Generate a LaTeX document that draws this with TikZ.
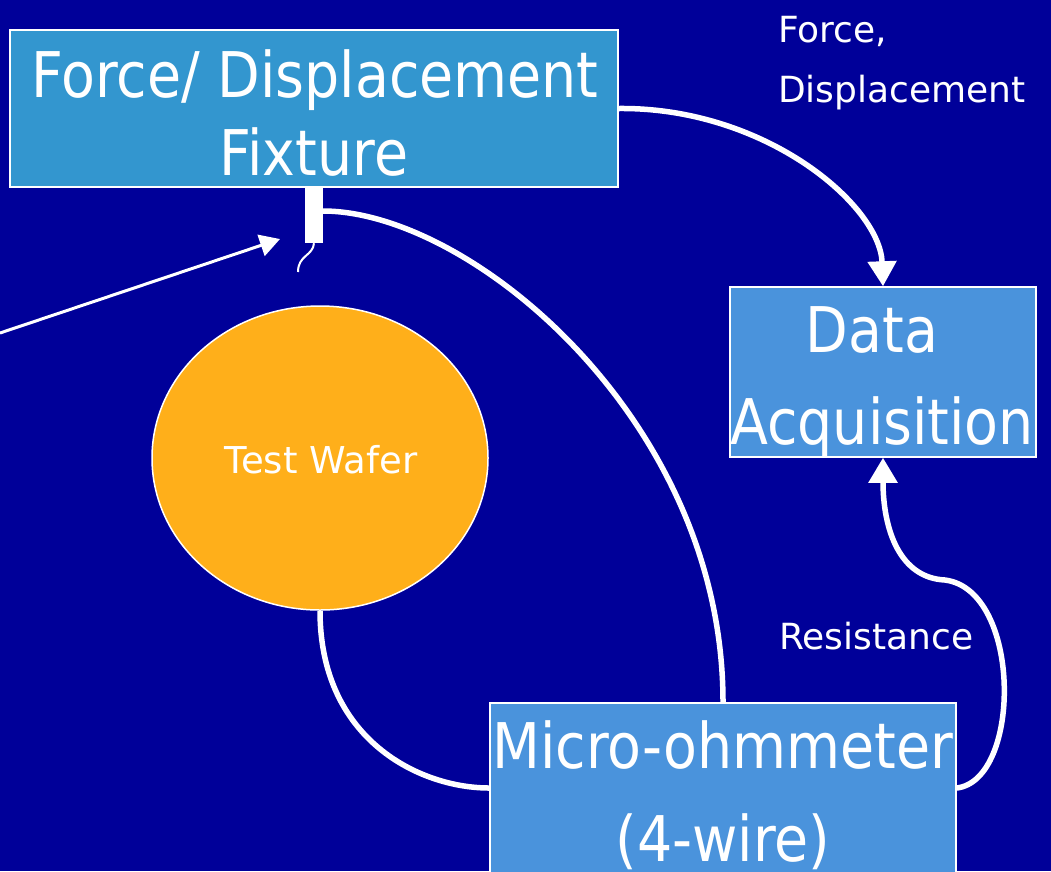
\documentclass[tikz,border=0pt]{standalone}
\usepackage{fontspec}
\usetikzlibrary{arrows.meta,shapes.geometric}
\newfontfamily\titlefont[FakeStretch=0.88]{DejaVu Sans}
\newfontfamily\notefont{DejaVu Sans}
\definecolor{bg}{RGB}{0,0,153}
\definecolor{fixturefill}{RGB}{51,150,207}
\definecolor{unitfill}{RGB}{74,147,220}
\definecolor{waferfill}{RGB}{255,175,26}
\tikzset{
  unitbox/.style={draw=white, line width=1.5pt, rectangle, inner sep=0pt},
  bigtext/.style={text=white, inner sep=0pt, anchor=base,
    font=\titlefont\fontsize{63}{78}\selectfont},
  smalltext/.style={text=white, inner sep=0pt, anchor=base west,
    font=\notefont\fontsize{36}{44}\selectfont},
  wire/.style={draw=white, line width=5.5pt},
  signal/.style={draw=white, line width=5.5pt,
    -{Triangle[length=25pt,width=28pt]}},
  pointer/.style={draw=white, line width=3pt,
    -{Triangle[length=20pt,width=22pt]}},
}
\begin{document}
\begin{tikzpicture}[x=1pt,y=-1pt]
  % canvas
  \fill[bg] (0,0) rectangle (1051,871);
  \useasboundingbox (0,0) rectangle (1051,871);

  % boxes
  \node[unitbox, fill=fixturefill, minimum width=608pt, minimum height=157pt]
    (fixture) at (314,108.5) {};
  \node[unitbox, fill=unitfill, minimum width=306pt, minimum height=170pt]
    (daq) at (883,372) {};
  \node[unitbox, fill=unitfill, minimum width=466pt, minimum height=170pt]
    (ohm) at (723,788) {};

  % wafer
  \node[draw=white, line width=1.5pt, fill=waferfill, ellipse,
        minimum width=336pt, minimum height=304pt, inner sep=0pt]
    (wafer) at (320,458) {};

  % probe tip under the fixture
  \node[fill=white, rectangle, inner sep=0pt, minimum width=18pt,
        minimum height=56pt] (probe) at (314,215) {};
  \coordinate (probeend) at (298,272);
  \draw[white, line width=2pt] (probe.south) .. controls (313,256) and (298,255) .. (probeend);

  % box texts
  \node[bigtext] (fixtureA) at (315,97) {Force/ Displacement};
  \node[bigtext] (fixtureB) at (314,175) {Fixture};
  \node[bigtext] (daqA) at (872,352) {Data};
  \node[bigtext] (daqB) at (882,444) {Acquisition};
  \node[bigtext] (ohmA) at (723,768) {Micro-ohmmeter};
  \node[bigtext] (ohmB) at (723,861) {(4-wire)};
  \node[text=white, inner sep=0pt, anchor=base,
        font=\notefont\fontsize{37}{44}\selectfont] (waferlabel) at (321,473) {Test Wafer};

  % side labels
  \node[smalltext] (fdA) at (778,42) {Force,};
  \node[smalltext] (fdB) at (778,102) {Displacement};
  \node[smalltext] (res) at (779,649) {Resistance};

  % connectors
  \coordinate (probewire) at (323,211);
  \draw[wire] (probewire) .. controls (470,211) and (723,420) .. (ohm.north);
  \draw[wire] (wafer.south) .. controls (320,740) and (420,788) .. (ohm.west);
  \draw[signal] (fixture.east) .. controls (765,107) and (880,205) .. (daq.north);
  \coordinate (resbend) at (945,580);
  \draw[signal] (ohm.east) .. controls (1022,780) and (1022,590) .. (resbend)
    .. controls (900,578) and (883,530) .. (daq.south);

  % pointer toward the probe
  \coordinate (pointerstart) at (0,333);
  \coordinate (pointerend) at (280,239);
  \draw[pointer] (pointerstart) -- (pointerend);
\end{tikzpicture}
\end{document}
